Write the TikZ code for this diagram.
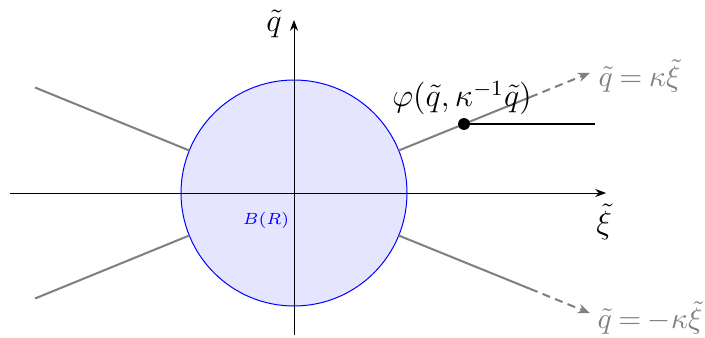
\documentclass[tikz,border=0pt]{standalone}
\usetikzlibrary{arrows.meta}
\newcommand{\tighteq}{\thickmuskip=4mu\relax\medmuskip=1.5mu\relax}
\begin{document}
\begin{tikzpicture}[x=0.37pt,y=-0.37pt,
  axis/.style={line width=0.37pt,-{Stealth[length=4pt,width=3pt]}},
  ray/.style={gray,line width=0.75pt},
  rayend/.style={gray,line width=0.75pt,dash pattern=on 3pt off 2pt,-{Stealth[length=4.5pt,width=3.5pt]}},
  lab/.style={inner sep=0pt,font=\large},
  eqlab/.style={inner sep=0pt,anchor=west,text=gray,font=\fontsize{11}{13}\selectfont}]
\useasboundingbox (0,0) rectangle (705,338);
\coordinate (O) at (294,193);
% disc
\filldraw[fill=blue!10,draw=blue,line width=0.37pt] (O) circle (113);
% axes
\coordinate (xl) at (10,193); \coordinate (xr) at (606,193);
\coordinate (yb) at (294,335); \coordinate (yt) at (294,20);
\draw[axis] (xl) -- (xr);
\draw[axis] (yb) -- (yt);
% rays
\coordinate (ur0) at (398.7,150.5); \coordinate (ur1) at (530,97.2); \coordinate (ur2) at (590,72.8);
\coordinate (lr0) at (398.7,235.5); \coordinate (lr1) at (530,288.8); \coordinate (lr2) at (590,313.2);
\coordinate (ul0) at (189.3,150.5); \coordinate (ul1) at (35,87.5);
\coordinate (ll0) at (189.3,235.5); \coordinate (ll1) at (35,298.5);
\draw[ray] (ur0) -- (ur1);
\draw[rayend] (ur1) -- (ur2);
\draw[ray] (lr0) -- (lr1);
\draw[rayend] (lr1) -- (lr2);
\draw[ray] (ul0) -- (ul1);
\draw[ray] (ll0) -- (ll1);
% point and horizontal segment
\node[circle,fill=black,inner sep=0pt,minimum size=4.4pt] (P) at (464,124) {};
\coordinate (H) at (595,124);
\draw[line width=0.8pt] (P.center) -- (H);
% labels
\node[lab] (phi) at (462,98) {$\varphi(\tilde q,\kappa^{-1}\tilde q)$};
\node[eqlab] (l1) at (598,76) {$\tighteq\tilde q=\kappa\tilde\xi$};
\node[eqlab] (l2) at (597,318) {$\tighteq\tilde q=-\kappa\tilde\xi$};
\node[lab] (ylab) at (274,24) {$\tilde q$};
\node[lab] (xlab) at (604,222) {$\tilde\xi$};
\node[inner sep=0pt,text=blue,font=\fontsize{6.5}{7.5}\selectfont] (B) at (266,220) {$B(R)$};
\end{tikzpicture}
\end{document}
